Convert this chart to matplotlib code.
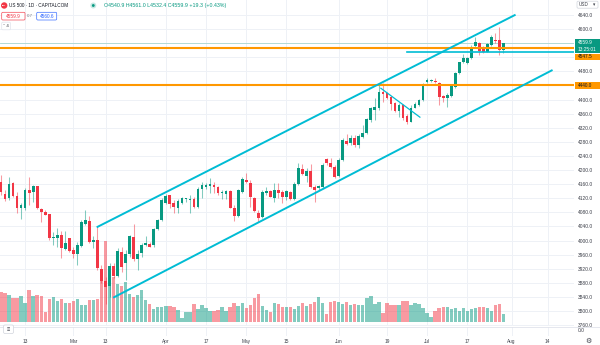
import matplotlib
matplotlib.use("Agg")
import matplotlib.pyplot as plt
import matplotlib.transforms as mtransforms
from matplotlib.patches import Rectangle, FancyBboxPatch, Ellipse
from matplotlib.lines import Line2D
import pandas as pd

plt.rcParams['font.family'] = ['Liberation Sans', 'DejaVu Sans']

# ---- US 500 daily candles (CAPITALCOM), 3 Feb 2023 onward ----
first_session = "2023-02-03"

opens = [4165, 4132, 4120, 4162, 4127, 4091, 4093, 4143, 4139, 4154, 4089, 4082, 4074, 4006, 4008, 4016,
         3977, 4006, 3972, 3962, 3985, 4048, 4056, 3995, 4002, 3920, 3885, 3871, 3928, 3899, 3967, 3935,
         3962, 4011, 3947, 3965, 3987, 3990, 3987, 4033, 4058, 4106, 4129, 4107, 4091, 4107, 4117, 4116,
         4117, 4094, 4145, 4152, 4156, 4158, 4153, 4134, 4132, 4140, 4093, 4070, 4138, 4172, 4164, 4121,
         4079, 4066, 4134, 4141, 4122, 4143, 4138, 4123, 4139, 4117, 4160, 4204, 4183, 4198, 4153, 4150,
         4153, 4230, 4220, 4208, 4183, 4228, 4283, 4276, 4290, 4271, 4295, 4304, 4342, 4370, 4375, 4422,
         4418, 4406, 4389, 4368, 4385, 4354, 4337, 4377, 4385, 4399, 4449, 4453, 4454, 4446, 4410, 4404,
         4411, 4436, 4474, 4506, 4503, 4517, 4552, 4560, 4550, 4536, 4555, 4568, 4569, 4540.9]
highs = [4186, 4143, 4181, 4167, 4138, 4106, 4148, 4181, 4158, 4155, 4091, 4087, 4074, 4023, 4035, 4027,
         4027, 4006, 3982, 3997, 4058, 4086, 4070, 4013, 4038, 3930, 3897, 3936, 3935, 3978, 3982, 3973,
         4016, 4047, 3973, 3992, 4013, 3997, 4036, 4062, 4120, 4132, 4129, 4115, 4117, 4124, 4122, 4129,
         4123, 4153, 4167, 4164, 4177, 4167, 4155, 4143, 4143, 4143, 4101, 4145, 4181, 4192, 4172, 4124,
         4087, 4143, 4153, 4143, 4162, 4162, 4143, 4143, 4141, 4167, 4219, 4217, 4205, 4216, 4158, 4158,
         4219, 4233, 4233, 4214, 4233, 4290, 4301, 4299, 4299, 4301, 4328, 4348, 4380, 4404, 4446, 4446,
         4421, 4411, 4394, 4389, 4387, 4358, 4385, 4392, 4402, 4446, 4460, 4458, 4460, 4449, 4413, 4418,
         4443, 4479, 4507, 4528, 4522, 4555, 4578, 4562, 4553, 4560, 4583, 4588, 4607, 4561.0]
lows = [4129, 4112, 4115, 4124, 4077, 4061, 4087, 4101, 4110, 4089, 4053, 4072, 4001, 3987, 3982, 3950,
        3973, 3968, 3950, 3930, 3982, 4044, 3992, 3980, 3916, 3879, 3820, 3841, 3893, 3896, 3911, 3888,
        3954, 3943, 3916, 3954, 3984, 3981, 3982, 4030, 4055, 4104, 4091, 4077, 4077, 4104, 4110, 4077,
        4091, 4091, 4120, 4145, 4134, 4134, 4129, 4117, 4117, 4091, 4056, 4068, 4134, 4162, 4096, 4082,
        4053, 4063, 4129, 4123, 4110, 4120, 4106, 4115, 4115, 4115, 4158, 4186, 4167, 4148, 4110, 4143,
        4148, 4214, 4205, 4177, 4181, 4226, 4271, 4271, 4266, 4262, 4290, 4301, 4337, 4342, 4370, 4394,
        4402, 4370, 4364, 4351, 4342, 4330, 4335, 4375, 4383, 4396, 4446, 4449, 4446, 4385, 4394, 4380,
        4408, 4434, 4472, 4503, 4500, 4515, 4547, 4526, 4531, 4534, 4553, 4560, 4526, 4532.4]
closes = [4139, 4118, 4160, 4127, 4093, 4101, 4143, 4136, 4154, 4091, 4082, 4072, 4006, 4010, 4016, 3978,
          3994, 3970, 3963, 3986, 4053, 4057, 3995, 4002, 3923, 3886, 3869, 3928, 3899, 3971, 3925, 3962,
          4013, 3947, 3962, 3987, 3992, 3982, 4034, 4058, 4115, 4126, 4104, 4094, 4113, 4120, 4119, 4119,
          4094, 4146, 4157, 4158, 4160, 4152, 4136, 4138, 4140, 4093, 4070, 4143, 4175, 4165, 4123, 4085,
          4064, 4138, 4141, 4124, 4143, 4134, 4123, 4140, 4117, 4160, 4206, 4190, 4198, 4153, 4143, 4155,
          4214, 4219, 4209, 4181, 4228, 4285, 4275, 4290, 4271, 4297, 4304, 4345, 4375, 4378, 4422, 4415,
          4405, 4387, 4367, 4385, 4347, 4335, 4375, 4387, 4399, 4443, 4456, 4455, 4451, 4408, 4404, 4413,
          4439, 4474, 4506, 4517, 4519, 4550, 4564, 4538, 4536, 4557, 4577, 4566, 4540.6, 4559.9]
volumes_k = [30, 29, 27, 24, 24, 26, 19, 32, 26, 27, 26, 10, 23, 25, 21, 23, 19, 19, 21, 23, 17, 17, 22, 22,
             23, 41, 81, 56, 45, 38, 36, 40, 28, 25, 27, 32, 22, 18, 13, 15, 15, 16, 16, 15, 12, 4,
             10, 10, 18, 13, 17, 14, 11, 11, 12, 15, 11, 15, 19, 16, 19, 14, 17, 24, 28, 16, 12, 10, 19, 18,
             15, 15, 15, 13, 16, 19, 16, 18, 20, 25, 19, 8, 20, 21, 20, 18, 20, 17, 18, 17, 17, 24, 26, 18,
             20, 9, 19, 17, 17, 17, 21, 21, 17, 19, 18, 14, 9, 5, 11, 14, 15, 15, 13, 14, 11, 14, 11, 13,
             14, 15, 15, 14, 11, 17, 18, 8]

# time-axis labels
tick_dates = ["2023-02-13", "2023-03-01", "2023-03-13", "2023-04-03", "2023-04-17", "2023-05-01",
              "2023-05-15", "2023-06-01", "2023-06-19", "2023-07-03", "2023-07-17", "2023-08-01",
              "2023-08-14"]
tick_labels = ["13", "Mar", "13", "Apr", "17", "May", "15", "Jun", "19", "Jul", "17", "Aug", "14"]
price_ticks = list(range(3760, 4641, 40))

# drawings
upper_channel = ([23.8, 128.0], [4037.5, 4640.8])
lower_channel = ([27.9, 137.2], [3837.7, 4483.9])
short_trend = ([94.5, 104.2], [4432.0, 4350.0])
resistance_hi = 4547.5
resistance_lo = 4440.0
support_ray_start, support_ray_level = 101, 4535.0

bid, spread, ask = 4559.9, 0.7, 4560.6
countdown = "13:25:01"

# ---- styling ----
UP, DOWN = "#089981", "#F23645"
CYAN, ORANGE = "#00BCD4", "#FF9800"
GRID = "#eef1f6"
TXT = "#3b3e48"

W, H = 600, 345
fig = plt.figure(figsize=(W / 100, H / 100), dpi=100)
px = mtransforms.Affine2D().scale(1 / W, -1 / H).translate(0, 1) + fig.transFigure


def rect(x0, y0, x1, y1):
    return [x0 / W, 1 - y1 / H, (x1 - x0) / W, (y1 - y0) / H]


PANE_BOTTOM = 326
PLOT_RIGHT = 574
BAR_PX, FIRST_PX = 4.02, 1.0
PRICE_TOP, PX_PER_POINT = 4682.5, 0.3524

xlim = ((0 - FIRST_PX) / BAR_PX, (PLOT_RIGHT - FIRST_PX) / BAR_PX)
ylim = (PRICE_TOP - PANE_BOTTOM / PX_PER_POINT, PRICE_TOP)

sessions = pd.bdate_range(first_session, periods=150)
pos = {d.strftime("%Y-%m-%d"): i for i, d in enumerate(sessions)}
tick_idx = [pos[d] for d in tick_dates]
n = len(closes)
idx = list(range(n))

# background grid
bg = fig.add_axes(rect(0, 0, PLOT_RIGHT, PANE_BOTTOM), label="grid")
bg.set_xlim(*xlim)
bg.set_ylim(*ylim)
bg.set_xticks(tick_idx)
bg.set_yticks(price_ticks)
bg.grid(True, color=GRID, lw=0.7)
bg.tick_params(length=0, labelbottom=False, labelleft=False)
for s in bg.spines.values():
    s.set_visible(False)
bg.set_zorder(0)

# volume overlay
vax = fig.add_axes(rect(0, 0, PLOT_RIGHT, PANE_BOTTOM), label="volume", sharex=bg)
vax.set_ylim(-4, 322)
vcol = [UP if c >= o else DOWN for o, c in zip(opens, closes)]
vax.bar(idx, volumes_k, width=0.84, color=vcol, alpha=0.5, linewidth=0)
vax.axis("off")
vax.patch.set_visible(False)
vax.set_zorder(1)

# price pane
ax = fig.add_axes(rect(0, 0, PLOT_RIGHT, PANE_BOTTOM), label="price", sharex=bg, sharey=bg)
ax.patch.set_visible(False)
ax.set_zorder(2)
for s in ax.spines.values():
    s.set_visible(False)

for i, o, h, l, c in zip(idx, opens, highs, lows, closes):
    col = UP if c >= o else DOWN
    ax.vlines(i, l, h, color=col, alpha=0.5, lw=0.75, zorder=2)
    body = max(abs(c - o), 2.8)
    ax.bar(i, body, bottom=min(o, c), width=0.68, color=col, linewidth=0, zorder=3)

last_price = closes[-1]
ax.axhline(last_price, color=UP, alpha=0.3, lw=0.6, zorder=1)
ax.axhline(resistance_hi, color=ORANGE, lw=1.5, zorder=4)
ax.axhline(resistance_lo, color=ORANGE, lw=1.5, zorder=4)
ax.plot([support_ray_start, xlim[1]], [support_ray_level, support_ray_level], color=CYAN, lw=1.2, zorder=4)
ax.plot(*upper_channel, color=CYAN, lw=1.4, solid_capstyle="butt", zorder=4)
ax.plot(*lower_channel, color=CYAN, lw=1.4, solid_capstyle="butt", zorder=4)
ax.plot(*short_trend, color=CYAN, lw=0.9, zorder=4)

ax.yaxis.tick_right()
ax.set_yticks(price_ticks)
ax.set_yticklabels([f"{v:.1f}" for v in price_ticks])
ax.tick_params(axis="y", length=0, pad=2.6, labelsize=3.5, labelcolor=TXT)
for t in ax.get_yticklabels():
    t.set_horizontalalignment("left")
ax.tick_params(axis="x", length=0, labelbottom=False)

# lower pane with the time scale
pane = fig.add_axes(rect(0, PANE_BOTTOM + 0.5, PLOT_RIGHT, 336), label="pane", sharex=bg)
pane.set_ylim(0, 1)
pane.set_yticks([])
pane.grid(True, axis="x", color=GRID, lw=0.7)
pane.tick_params(axis="x", length=0, pad=2.0, labelsize=3.4, labelcolor=TXT, labelbottom=True)
pane.set_xticks(tick_idx)
pane.set_xticklabels(tick_labels)
for s in pane.spines.values():
    s.set_visible(False)
pane.set_zorder(3)

fig.add_artist(Rectangle((PLOT_RIGHT, PANE_BOTTOM + 0.5), W - PLOT_RIGHT, 9.5, transform=px,
                         facecolor="white", edgecolor="none", zorder=4))
fig.add_artist(Line2D([0, W], [PANE_BOTTOM + 0.5, PANE_BOTTOM + 0.5], transform=px,
                      color="#e0e3eb", lw=0.6, zorder=5))
fig.text(577.5, 331, "0.0", transform=px, fontsize=3.5, color=TXT, va="center", ha="left", zorder=6)
fig.add_artist(FancyBboxPatch((3.5, 325), 10, 8.5, boxstyle="round,pad=0,rounding_size=1.5", transform=px,
                              facecolor="white", edgecolor="#d1d4dc", lw=0.5, zorder=6))
fig.text(8.5, 329.5, "≡", transform=px, fontsize=4, color=TXT, va="center", ha="center", zorder=7)
fig.text(588, 341, "⚙", transform=px, fontsize=5, color=TXT, va="center", ha="center",
         family="DejaVu Sans", zorder=6)


# price-scale tags
def tag(y0, y1, face, lines, color):
    fig.add_artist(Rectangle((PLOT_RIGHT + 1, y0), W - PLOT_RIGHT - 1, y1 - y0, transform=px,
                             facecolor=face, edgecolor="none", zorder=8))
    step = (y1 - y0) / len(lines)
    for k, s in enumerate(lines):
        fig.text(577.5, y0 + step * (k + 0.5), s, transform=px, fontsize=3.4, color=color,
                 va="center", ha="left", zorder=9)


tag(39.3, 53.3, UP, [f"{last_price:.1f}", countdown], "white")
tag(53.6, 59.6, ORANGE, [f"{resistance_hi:.1f}"], "#131722")
tag(82.0, 88.6, ORANGE, [f"{resistance_lo:.1f}"], "#131722")

# currency selector
fig.add_artist(FancyBboxPatch((577, 1.2), 21, 7, boxstyle="round,pad=0,rounding_size=1.2", transform=px,
                              facecolor="white", edgecolor="#d1d4dc", lw=0.5, zorder=8))
fig.text(579, 4.8, "USD", transform=px, fontsize=3.3, color=TXT, va="center", ha="left", zorder=9)
fig.text(594.5, 4.8, "▾", transform=px, fontsize=3.3, color=TXT, va="center", ha="center",
         family="DejaVu Sans", zorder=9)

# legend header
fig.add_artist(Ellipse((4.2, 5.5), 6.4, 6.4, transform=px, facecolor=DOWN, edgecolor="none", zorder=8))
fig.text(4.2, 5.6, "500", transform=px, fontsize=1.6, color="white", va="center", ha="center",
         weight="bold", zorder=9)
fig.text(9.3, 5.6, "US 500 · 1D · CAPITALCOM", transform=px, fontsize=3.35, color="#131722",
         va="center", ha="left", zorder=9)
fig.add_artist(Ellipse((93.3, 5.5), 6.0, 6.0, transform=px, facecolor=UP, alpha=0.22, edgecolor="none", zorder=8))
fig.add_artist(Ellipse((93.3, 5.5), 2.8, 2.8, transform=px, facecolor=UP, edgecolor="none", zorder=9))
o, h, l, c = opens[-1], highs[-1], lows[-1], closes[-1]
chg = c - closes[-2]
fig.text(103.5, 5.6, f"O{o:.1f} H{h:.1f} L{l:.1f} C{c:.1f} {chg:+.1f} ({chg / closes[-2] * 100:+.2f}%)",
         transform=px, fontsize=3.75, color=UP, va="center", ha="left", zorder=9)

fig.add_artist(FancyBboxPatch((1.7, 12.3), 23.3, 7.7, boxstyle="round,pad=0,rounding_size=1.2", transform=px,
                              facecolor="white", edgecolor=DOWN, lw=0.5, alpha=0.9, zorder=8))
fig.text(13.35, 16.3, f"{bid:.1f}", transform=px, fontsize=3.4, color=DOWN, va="center", ha="center", zorder=9)
fig.text(29.5, 16.3, f"{spread:.1f}", transform=px, fontsize=3.2, color="#787b86", va="center", ha="center",
         zorder=9)
fig.add_artist(FancyBboxPatch((36.7, 12.3), 20, 7.7, boxstyle="round,pad=0,rounding_size=1.2", transform=px,
                              facecolor="white", edgecolor="#2962FF", lw=0.5, alpha=0.9, zorder=8))
fig.text(46.7, 16.3, f"{ask:.1f}", transform=px, fontsize=3.4, color="#2962FF", va="center", ha="center",
         zorder=9)
fig.add_artist(FancyBboxPatch((1.7, 22.2), 8.8, 7.6, boxstyle="round,pad=0,rounding_size=1.2", transform=px,
                              facecolor="white", edgecolor="#e0e3eb", lw=0.5, zorder=8))
fig.text(6.1, 26.0, "˅ 4", transform=px, fontsize=3.0, color=TXT, va="center", ha="center",
         family="DejaVu Sans", zorder=9)

fig.savefig("out.png", dpi=100, facecolor="white")
